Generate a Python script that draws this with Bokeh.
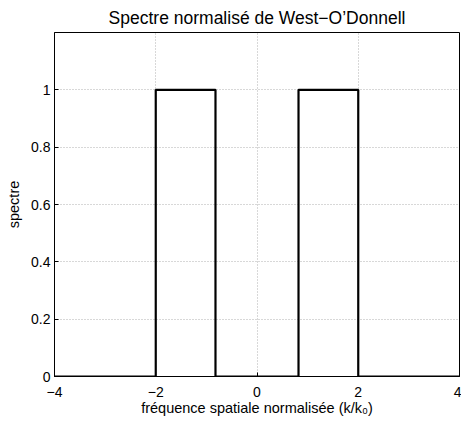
from bokeh.plotting import figure
from bokeh.models import Range1d, FixedTicker
from bokeh.embed import file_html
from bokeh.resources import INLINE

# spectrum: flat bands of unit amplitude
band_low = [-2.0, 0.82]
band_high = [-0.82, 2.0]
amplitude = [1.0, 1.0]
x_limits = [-4.0, 4.0]
x_ticks = [-4, -2, 0, 2, 4]
x_tick_labels = ["\u22124", "\u22122", "0", "2", "4"]
y_ticks = [0, 0.2, 0.4, 0.6, 0.8, 1.0]
y_tick_labels = ["0", "0.2", "0.4", "0.6", "0.8", "1"]

# build the step curve from the bands
xs = [x_limits[0]]
ys = [0.0]
for lo, hi, a in zip(band_low, band_high, amplitude):
    xs += [lo, lo, hi, hi]
    ys += [0.0, a, a, 0.0]
xs.append(x_limits[1])
ys.append(0.0)

FONT = "Liberation Sans"

p = figure(width=461, height=421, output_backend="svg", toolbar_location=None,
           x_range=Range1d(x_limits[0], x_limits[1]), y_range=Range1d(0, 1.2),
           min_border_left=54, min_border_right=2, min_border_top=32, min_border_bottom=45,
           title="Spectre normalisé de West\u2212O\u2019Donnell")
p.title.align = "center"
p.title.text_font = FONT
p.title.text_font_size = "17.5px"
p.title.text_font_style = "normal"
p.title.text_color = "black"
p.title.standoff = 9

p.outline_line_color = "black"
p.outline_line_width = 1
p.background_fill_color = "white"
p.border_fill_color = "white"

p.line(xs, ys, line_color="black", line_width=2.2)

for ax in (p.xaxis[0], p.yaxis[0]):
    ax.major_label_text_font = FONT
    ax.major_label_text_font_size = "14px"
    ax.major_label_text_color = "black"
    ax.axis_label_text_font = FONT
    ax.axis_label_text_font_size = "14.5px"
    ax.axis_label_text_font_style = "normal"
    ax.axis_label_text_color = "black"
    ax.major_tick_in = 4
    ax.major_tick_out = 0
    ax.minor_tick_in = 0
    ax.minor_tick_out = 0
    ax.axis_line_color = "black"
    ax.major_tick_line_color = "black"

p.xaxis[0].ticker = FixedTicker(ticks=x_ticks)
p.xaxis[0].major_label_overrides = {t: l for t, l in zip(x_ticks, x_tick_labels)}
p.yaxis[0].ticker = FixedTicker(ticks=y_ticks)
p.yaxis[0].major_label_overrides = {t: l for t, l in zip(y_ticks, y_tick_labels)}
p.xaxis[0].axis_label = "fréquence spatiale normalisée (k/k\u2080)"
p.yaxis[0].axis_label = "spectre"
p.xaxis[0].major_label_standoff = 10
p.xaxis[0].axis_label_standoff = 0
p.yaxis[0].major_label_standoff = 4
p.yaxis[0].axis_label_standoff = 6

for g in (p.xgrid[0], p.ygrid[0]):
    g.grid_line_color = "#b0b0b0"
    g.grid_line_dash = "1 2"
    g.grid_line_width = 1

open("out.html", "w").write(file_html(p, INLINE))
